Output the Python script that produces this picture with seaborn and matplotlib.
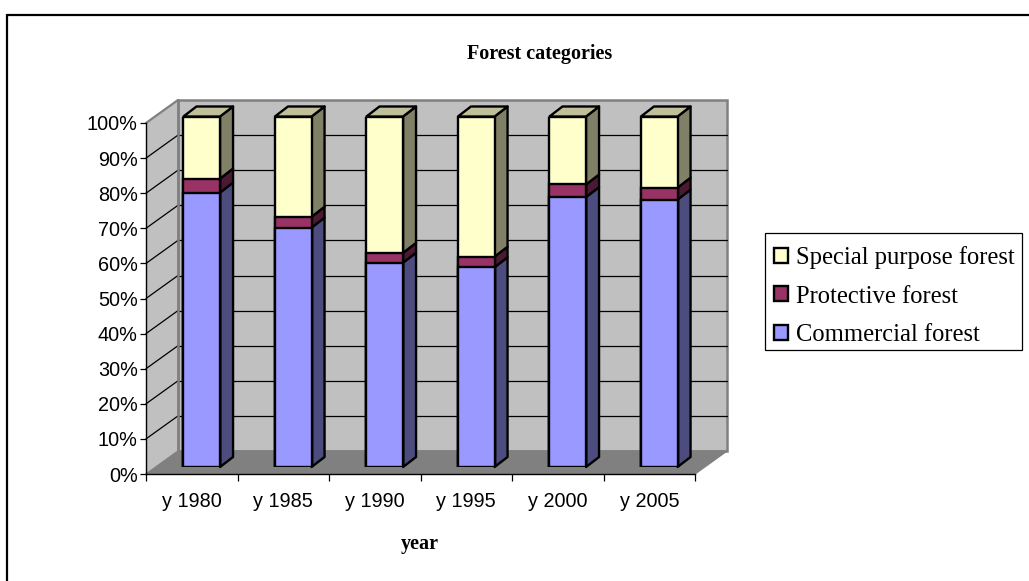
import numpy as np
import pandas as pd
import matplotlib
matplotlib.use('Agg')
import matplotlib.pyplot as plt
from matplotlib.patches import Polygon, Rectangle
import seaborn as sns

# Values
years = ['y 1980', 'y 1985', 'y 1990', 'y 1995', 'y 2000', 'y 2005']
commercial = [78.3, 68.3, 58.3, 57.0, 77.0, 76.3]
protective = [4.0, 3.1, 2.8, 3.0, 3.6, 3.4]
special = [17.7, 28.6, 38.9, 40.0, 19.4, 20.3]
series_names = ['Commercial forest', 'Protective forest', 'Special purpose forest']
y_ticks = [0, 10, 20, 30, 40, 50, 60, 70, 80, 90, 100]

# Colours: front, side, top
front_colors = ['#9999FF', '#993366', '#FFFFCC']
side_colors = ['#4C4C7F', '#4C1933', '#808066']
top_color = '#BFBF99'

W, H = 1029, 581

sns.set_theme(style='white')
plt.rcParams['font.family'] = ['Liberation Sans', 'DejaVu Sans']

fig = plt.figure(figsize=(W / 100, H / 100), dpi=100, facecolor='white')


def px_axes(left, top, right, bottom):
    return fig.add_axes([left / W, 1 - bottom / H, (right - left) / W, (bottom - top) / H])


# Canvas in pixels for the frame, walls and bar sides
canvas = px_axes(0, 0, W, H)
canvas.set_xlim(0, W)
canvas.set_ylim(H, 0)
canvas.axis('off')

# Outer frame (only top and left are inside the image)
canvas.plot([7, W], [14.5, 14.5], color='black', lw=1.6, solid_capstyle='butt')
canvas.plot([7, 7], [14, H], color='black', lw=1.6, solid_capstyle='butt')

# Front plane with the axis, and the plane the bars stand on
ax = px_axes(146, 123, 695, 474)
ax.patch.set_alpha(0)
ax_bars = px_axes(156, 116.5, 705, 467)
ax_bars.patch.set_alpha(0)

df = pd.DataFrame({'year': years, 'c': commercial, 'p': protective, 's': special})
stack = df[['c', 'p', 's']].cumsum(axis=1)


def to_canvas(axes, x, y):
    pt = axes.transData.transform((x, y))
    return canvas.transData.inverted().transform(pt)


# Scales first so the walls can use them
ax.set_xlim(-0.5, 5.5)
ax.set_ylim(0, 100)

DX, DY = 32, -23
fl = to_canvas(ax, -0.5, 0)
fr = to_canvas(ax, 5.5, 0)
ft = to_canvas(ax, -0.5, 100)

canvas.add_patch(Polygon([fl, fl + [DX, DY], ft + [DX, DY], ft], fc='#C0C0C0', ec='none', zorder=1))
canvas.add_patch(Polygon([fl + [DX, DY], fr + [DX, DY], (fr + [DX, DY]) * [1, 0] + (ft + [DX, DY]) * [0, 1], ft + [DX, DY]],
                         fc='#C0C0C0', ec='#808080', lw=1.8, zorder=1))
canvas.add_patch(Polygon([fl, fr, fr + [DX, DY], fl + [DX, DY]], fc='#808080', ec='#808080', lw=1, zorder=2))

for v in y_ticks[1:]:
    p = to_canvas(ax, -0.5, v)
    r = to_canvas(ax, 5.5, v)
    canvas.plot([p[0], p[0] + DX], [p[1], p[1] + DY], color='#808080' if v == 100 else 'black',
                lw=1.6 if v == 100 else 0.9, zorder=3)
    if v < 100:
        canvas.plot([p[0] + DX, r[0] + DX], [p[1] + DY, r[1] + DY], color='black', lw=0.9, zorder=3)
canvas.plot([ft[0] + DX, ft[0] + DX], [fl[1] + DY, ft[1] + DY], color='#808080', lw=1.8, zorder=3)

# Bars, tallest stack first so the shorter ones lie on top
for col, color in zip(['s', 'p', 'c'], front_colors[::-1]):
    sns.barplot(x=df['year'], y=stack[col], color=color, saturation=1, width=0.4,
                edgecolor='black', linewidth=1.7, ax=ax_bars, zorder=5)
ax_bars.set_xlim(-0.5, 5.5)
ax_bars.set_ylim(0, 100)
ax_bars.axis('off')

# Side and top faces of each bar
BAR_DX, BAR_DY = 13, -10
n = len(years)
for i in range(n):
    x_right = ax_bars.patches[i].get_x() + ax_bars.patches[i].get_width()
    x_left = ax_bars.patches[i].get_x()
    bottom = 0
    for s, col in enumerate(['c', 'p', 's']):
        top = stack[col][i]
        a = to_canvas(ax_bars, x_right, bottom)
        b = to_canvas(ax_bars, x_right, top)
        canvas.add_patch(Polygon([a, b, b + [BAR_DX, BAR_DY], a + [BAR_DX, BAR_DY]], fc=side_colors[s],
                                 ec='black', lw=1.7, joinstyle='round', zorder=6))
        bottom = top
    a = to_canvas(ax_bars, x_left, bottom)
    b = to_canvas(ax_bars, x_right, bottom)
    canvas.add_patch(Polygon([a, b, b + [BAR_DX, BAR_DY], a + [BAR_DX, BAR_DY]], fc=top_color,
                             ec='black', lw=1.7, joinstyle='round', zorder=6))

# Axis look
ax.set_yticks(y_ticks)
ax.set_yticklabels([f'{v}%' for v in y_ticks], fontsize=14.3, color='black')
ax.set_xticks(np.arange(-0.5, 6, 1))
ax.set_xticklabels([])
ax.set_xticks(np.arange(n), labels=years, minor=True)
ax.tick_params(axis='x', which='major', length=5, width=0.9, color='black', bottom=True)
ax.tick_params(axis='x', which='minor', length=0, labelsize=14.3, pad=13, labelcolor='black')
ax.tick_params(axis='y', length=4, width=0.9, color='black', left=True, pad=2)
ax.set_xlabel('')
ax.set_ylabel('')
sns.despine(ax=ax, top=True, right=True)
for side in ['left', 'bottom']:
    ax.spines[side].set_color('black')
    ax.spines[side].set_linewidth(1.0)

canvas.set_zorder(0)
ax.set_zorder(1)
ax_bars.set_zorder(2)

fig.text(540 / W, 1 - 54 / H, 'Forest categories', ha='center', va='center', fontsize=14.5,
         fontweight='bold', family=['Liberation Serif'], color='black')
fig.text(420 / W, 1 - 544 / H, 'year', ha='center', va='center', fontsize=14.5,
         fontweight='bold', family=['Liberation Serif'], color='black')

# Legend, box drawn apart because the rows sit low in it
canvas.add_patch(Rectangle((765, 233), 257, 117, fc='white', ec='black', lw=0.9, zorder=2))
proxies = [Rectangle((0, 0), 1, 1, fc=c, ec='black', lw=1.7) for c in front_colors[::-1]]
leg = fig.legend(proxies, series_names[::-1], loc='upper left', bbox_to_anchor=(765 / W, 1 - 237 / H),
                 borderaxespad=0, frameon=False,
                 prop={'family': 'Liberation Serif', 'size': 17.75}, handlelength=0.55, handleheight=0.55,
                 handletextpad=0.33, labelspacing=0.66, borderpad=0.38, labelcolor='black')

fig.savefig('out.png', dpi=100)
